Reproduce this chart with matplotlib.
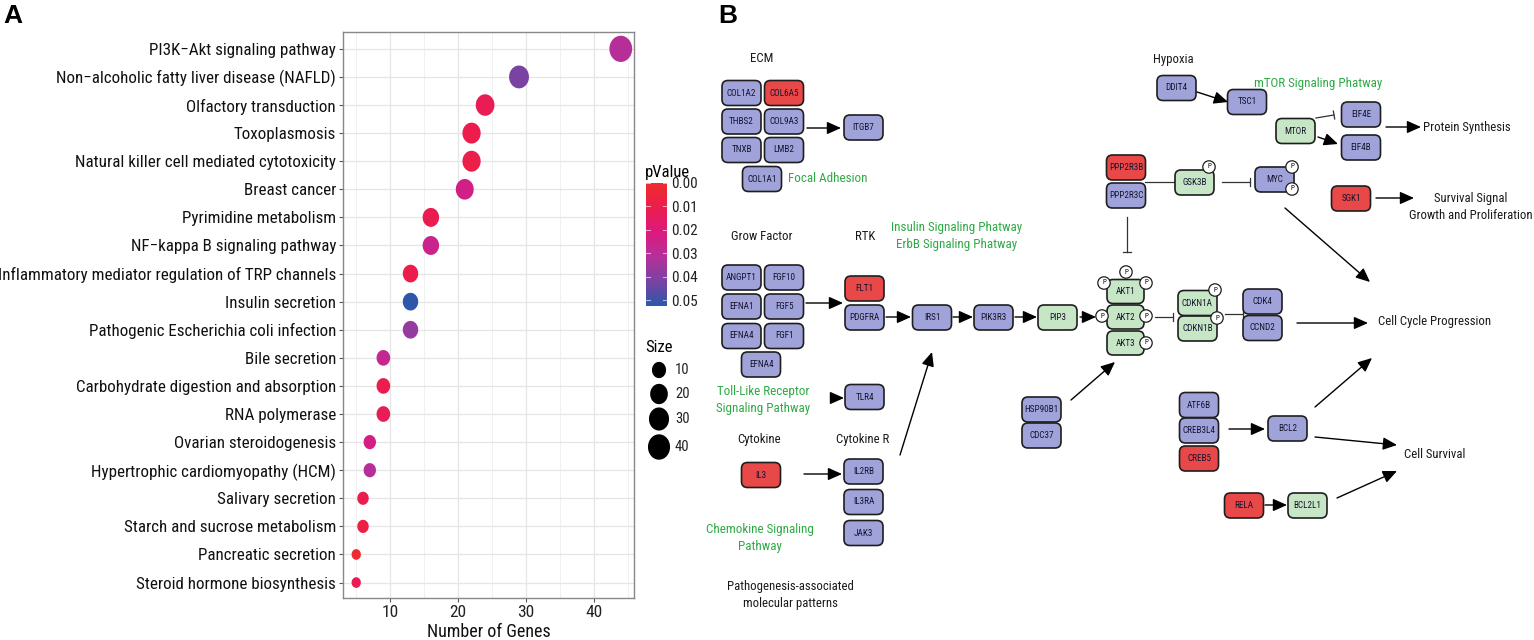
import numpy as np
import matplotlib
matplotlib.use("Agg")
import matplotlib.pyplot as plt
from matplotlib.colors import LinearSegmentedColormap, Normalize
from matplotlib.patches import FancyBboxPatch, Circle
import logging
logging.getLogger("matplotlib.font_manager").setLevel(logging.ERROR)

plt.rcParams['font.family'] = ['Roboto Condensed', 'Archivo Narrow', 'PT Sans Narrow',
                               'Sofia Sans Semi Condensed', 'DejaVu Sans']

# ---- panel A data (top to bottom) ----
pathways = [
    "PI3K\u2212Akt signaling pathway",
    "Non\u2212alcoholic fatty liver disease (NAFLD)",
    "Olfactory transduction",
    "Toxoplasmosis",
    "Natural killer cell mediated cytotoxicity",
    "Breast cancer",
    "Pyrimidine metabolism",
    "NF\u2212kappa B signaling pathway",
    "Inflammatory mediator regulation of TRP channels",
    "Insulin secretion",
    "Pathogenic Escherichia coli infection",
    "Bile secretion",
    "Carbohydrate digestion and absorption",
    "RNA polymerase",
    "Ovarian steroidogenesis",
    "Hypertrophic cardiomyopathy (HCM)",
    "Salivary secretion",
    "Starch and sucrose metabolism",
    "Pancreatic secretion",
    "Steroid hormone biosynthesis",
]
gene_counts = [44, 29, 24, 22, 22, 21, 16, 16, 13, 13, 13, 9, 9, 9, 7, 7, 6, 6, 5, 5]
p_values = [0.031, 0.042, 0.012, 0.010, 0.009, 0.024, 0.011, 0.026, 0.010, 0.052,
            0.037, 0.027, 0.010, 0.013, 0.023, 0.031, 0.010, 0.008, 0.002, 0.012]
size_breaks = [10, 20, 30, 40]
p_ticks = [0.00, 0.01, 0.02, 0.03, 0.04, 0.05]

# ---- panel B data ----
red_genes = ["COL6A5", "FLT1", "IL3", "PPP2R3B", "SGK1", "CREB5", "RELA"]
green_genes = ["PIP3", "AKT1", "AKT2", "AKT3", "CDKN1A", "CDKN1B", "GSK3B", "MTOR", "BCL2L1"]

# layout of gene boxes in pixel coords (name, cx, cy)
boxes = [
    ("COL1A2", 741.5, 93), ("COL6A5", 784, 93),
    ("THBS2", 741.5, 121.5), ("COL9A3", 784, 121.5),
    ("TNXB", 741.5, 150), ("LMB2", 784, 150),
    ("COL1A1", 762, 179), ("ITGB7", 863.5, 127.5),
    ("ANGPT1", 741.5, 277.5), ("FGF10", 784, 277.5),
    ("EFNA1", 741.5, 306.5), ("FGF5", 784, 306.5),
    ("EFNA4", 741.5, 336), ("FGF1", 784, 336),
    ("EFNA4", 761, 364.5),
    ("FLT1", 864.5, 288.5), ("PDGFRA", 864.5, 317.5),
    ("TLR4", 864.5, 397),
    ("IL3", 761, 475),
    ("IL2RB", 863.5, 471.5), ("IL3RA", 863.5, 502), ("JAK3", 863.5, 533),
    ("IRS1", 932, 317.5), ("PIK3R3", 993.5, 317.5), ("PIP3", 1057.5, 317.5),
    ("AKT1", 1125.5, 291.5), ("AKT2", 1125.5, 317), ("AKT3", 1125.5, 343),
    ("CDKN1A", 1197.5, 303), ("CDKN1B", 1197.5, 328.5),
    ("CDK4", 1262.5, 301.5), ("CCND2", 1262.5, 328),
    ("HSP90B1", 1041.5, 409.5), ("CDC37", 1041.5, 435.5),
    ("PPP2R3B", 1126, 167.5), ("PPP2R3C", 1126, 195.5),
    ("GSK3B", 1194.5, 182.5), ("MYC", 1274.5, 179.5),
    ("DDIT4", 1176.5, 88), ("TSC1", 1247, 102),
    ("MTOR", 1295.5, 131), ("EIF4E", 1361, 114.5), ("EIF4B", 1361, 147.5),
    ("SGK1", 1351, 198.5),
    ("ATF6B", 1199, 405), ("CREB3L4", 1199, 430.5), ("CREB5", 1199, 458.5),
    ("BCL2", 1287.5, 428.5),
    ("RELA", 1244, 505.5), ("BCL2L1", 1307.5, 505.5),
]
phospho = [(1126, 272), (1104, 283), (1146, 283), (1102, 316), (1146, 316),
           (1146, 343), (1215, 290), (1217, 318), (1209, 167), (1292, 167), (1292, 189)]
arrows = [
    (807, 128, 841, 128), (806, 303, 843, 303), (886, 317, 911, 317),
    (953, 317, 973, 317), (1015, 317, 1037, 317), (1080, 317, 1096, 317),
    (833, 398, 844, 398), (804, 474, 842, 474), (900, 455, 932, 352),
    (1071, 400, 1115, 362), (1297, 323, 1368, 323), (1285, 208, 1370, 282),
    (1197, 92, 1228, 102), (1318, 137, 1338, 144), (1386, 127, 1421, 127),
    (1376, 198, 1414, 198), (1229, 429, 1265, 429), (1315, 407, 1372, 358),
    (1315, 437, 1397, 445), (1265, 505, 1287, 505), (1337, 498, 1397, 471),
]
inhibits = [
    (1127, 217, 1127, 252), (1145, 182, 1175, 182), (1222, 182, 1250, 182),
    (1316, 118, 1334, 115), (1155, 317, 1173, 317), (1225, 314, 1243, 314),
]
labels_black = [
    ("ECM", 762, 58, "center"), ("Hypoxia", 1173, 59, "center"),
    ("Grow Factor", 762, 237, "center"), ("RTK", 865, 237, "center"),
    ("Cytokine", 759, 439, "center"), ("Cytokine R", 863, 439, "center"),
    ("Pathogenesis-associated\nmolecular patterns", 790, 595, "center"),
    ("Protein Synthesis", 1423, 127, "left"),
    ("Survival Signal\nGrowth and Proliferation", 1471, 207, "center"),
    ("Cell Cycle Progression", 1378, 322, "left"),
    ("Cell Survival", 1404, 455, "left"),
]
labels_green = [
    ("Focal Adhesion", 788, 179, "left"),
    ("Insulin Signaling Phatway\nErbB Signaling Phatway", 957, 236, "center"),
    ("mTOR Signaling Phatway", 1318, 83, "center"),
    ("Toll-Like Receptor\nSignaling Pathway", 763, 400, "center"),
    ("Chemokine Signaling\nPathway", 760, 538, "center"),
]

W, H = 1534, 640
fig = plt.figure(figsize=(W / 100, H / 100), dpi=100)

# full-figure overlay in pixel coordinates
ov = fig.add_axes([0, 0, 1, 1])
ov.set_xlim(0, W)
ov.set_ylim(H, 0)
ov.axis("off")

# ---- panel A ----
cmap = LinearSegmentedColormap.from_list(
    "pv", ["#EE2C2C", "#EC1C4E", "#DC1A7E", "#B4309A", "#7A42A3", "#2B58AA"])
norm = Normalize(0.0, 0.0525)

def dot_s(n):
    w = 9.3 + 13.5 * np.sqrt((np.asarray(n, float) - 5) / (44 - 5))
    return (w * 1.15 * 0.72) ** 2

t = np.linspace(0, 2 * np.pi, 60)
ell = np.column_stack([np.cos(t), 1.15 * np.sin(t)])

axA = fig.add_axes([343 / W, 1 - 598 / H, 291 / W, 566 / H])
ypos = np.arange(len(pathways))
axA.scatter(gene_counts, ypos, s=dot_s(gene_counts), c=p_values, cmap=cmap, norm=norm,
            marker=ell, linewidths=0, zorder=3)
axA.set_ylim(len(pathways) - 0.45, -0.6)
axA.set_xlim(3.05, 45.95)
axA.set_yticks(ypos)
axA.set_yticklabels(pathways, fontsize=12.25, color="#111111")
axA.set_xticks([10, 20, 30, 40])
axA.set_xticks([5, 15, 25, 35, 45], minor=True)
axA.tick_params(axis="both", which="major", length=3, color="#555555", width=0.8, pad=2)
axA.tick_params(axis="x", labelsize=12.5, labelcolor="#222222")
axA.tick_params(axis="x", which="minor", length=0)
axA.grid(True, which="major", color="#E6E6E6", lw=0.9, zorder=0)
axA.grid(True, which="minor", axis="x", color="#EEEEEE", lw=0.6, zorder=0)
axA.set_axisbelow(True)
for sp in axA.spines.values():
    sp.set_color("#888888")
    sp.set_linewidth(1.0)
axA.set_xlabel("Number of Genes", fontsize=13, color="#111111", labelpad=2)

# colorbar
cax = fig.add_axes([646 / W, 1 - 306 / H, 21 / W, 123 / H])
sm = plt.cm.ScalarMappable(norm=norm, cmap=cmap)
cb = fig.colorbar(sm, cax=cax)
cb.outline.set_visible(False)
cax.invert_yaxis()
cb.set_ticks(p_ticks)
cb.set_ticklabels([f"{v:.2f}" for v in p_ticks])
cax.tick_params(length=0, labelsize=11, pad=3, labelcolor="#222222")
for v in p_ticks:
    cax.plot([0, 0.2], [v, v], color="white", lw=0.8, alpha=0.6)
    cax.plot([0.8, 1], [v, v], color="white", lw=0.8, alpha=0.6)
ov.text(645, 173, "pValue", fontsize=12, va="center", ha="left")

# size legend
ov.text(645, 348, "Size", fontsize=12, va="center", ha="left")
leg_y = [370, 394, 419, 447]
ov.scatter([659] * 4, leg_y, s=dot_s(size_breaks), c="black", marker=ell, linewidths=0)
for v, yy in zip(size_breaks, leg_y):
    ov.text(675, yy, str(v), fontsize=10.5, va="center", ha="left", color="#222222")

ov.text(3, 16, "A", fontsize=19, fontweight="bold", family="Liberation Sans", va="center")
ov.text(718, 16, "B", fontsize=19, fontweight="bold", family="Liberation Sans", va="center")

# ---- panel B ----
def fill_for(name):
    if name in red_genes:
        return "#E94848"
    if name in green_genes:
        return "#C6E6C6"
    return "#A0A2DA"

for name, cx, cy in boxes:
    bw, bh = (37, 24) if name.startswith("AKT") else (39, 25)
    ov.add_patch(FancyBboxPatch((cx - bw / 2, cy - bh / 2), bw, bh,
                                boxstyle="round,pad=0,rounding_size=6",
                                fc=fill_for(name), ec="#1e1e1e", lw=1.2, zorder=3))
    ov.text(cx, cy, name, fontsize=6.6, ha="center", va="center", color="#151530", zorder=4)

for px, py in phospho:
    ov.add_patch(Circle((px, py), 6.2, fc="white", ec="#1e1e1e", lw=0.9, zorder=5))
    ov.text(px, py, "P", fontsize=5, ha="center", va="center", zorder=6)

for x0, y0, x1, y1 in arrows:
    ov.annotate("", xy=(x1, y1), xytext=(x0, y0),
                arrowprops=dict(arrowstyle="-|>,head_length=0.85,head_width=0.38",
                                color="black", lw=1.0, shrinkA=0, shrinkB=0,
                                mutation_scale=10))

for x0, y0, x1, y1 in inhibits:
    ov.plot([x0, x1], [y0, y1], color="#333333", lw=0.9)
    dx, dy = x1 - x0, y1 - y0
    ln = np.hypot(dx, dy)
    nx, ny = -dy / ln * 4, dx / ln * 4
    ov.plot([x1 - nx, x1 + nx], [y1 - ny, y1 + ny], color="#333333", lw=0.9)

for txt, x, y, ha in labels_black:
    ov.text(x, y, txt, fontsize=9.2, ha=ha, va="center", color="#1a1a1a",
            linespacing=1.4, multialignment="center")
for txt, x, y, ha in labels_green:
    ov.text(x, y, txt, fontsize=9.4, ha=ha, va="center", color="#2EAA45",
            linespacing=1.4, multialignment="center")

fig.savefig("out.png", dpi=100)
